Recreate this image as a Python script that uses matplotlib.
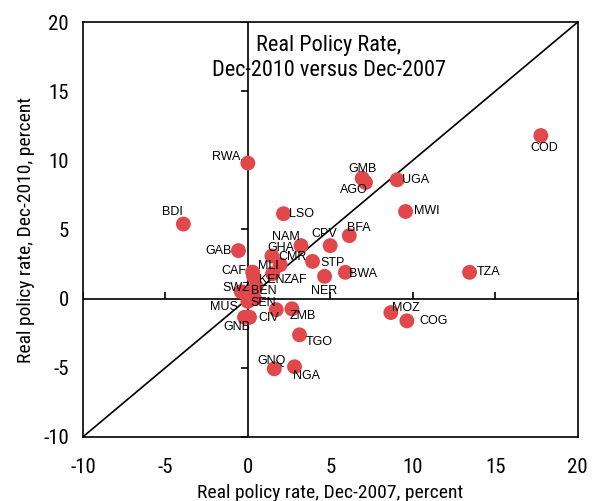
import matplotlib
matplotlib.use("Agg")
import matplotlib.pyplot as plt
from matplotlib import font_manager

# Real policy rates, Dec-2007 (x) against Dec-2010 (y), percent
countries = ["COD", "RWA", "GMB", "AGO", "UGA", "MWI", "BDI", "LSO", "BFA", "CPV",
             "NAM", "GAB", "GHA", "CMR", "STP", "BWA", "NER", "TZA", "CAF", "MLI",
             "KEN", "ZAF", "SWZ", "BEN", "MUS", "SEN", "GNB", "", "CIV", "ZMB",
             "TGO", "GNQ", "NGA", "MOZ", "COG"]
rate_2007 = [17.76, 0.0, 6.93, 7.13, 9.05, 9.56, -3.91, 2.16, 6.15, 4.99,
             3.22, -0.57, 1.46, 1.96, 3.92, 5.91, 4.65, 13.44, 0.29, 0.35,
             0.5, 1.5, -0.4, 0.1, 0.0, 0.4, -0.2, 0.1, 1.72, 2.67,
             3.13, 1.60, 2.83, 8.67, 9.64]
rate_2010 = [11.79, 9.8, 8.71, 8.40, 8.59, 6.30, 5.39, 6.14, 4.55, 3.83,
             3.83, 3.47, 3.08, 2.45, 2.69, 1.90, 1.61, 1.90, 1.91, 1.6,
             0.87, 1.8, 0.5, 0.4, -0.2, 0.0, -1.35, -1.35, -0.8, -0.74,
             -2.62, -5.08, -4.93, -1.01, -1.61]

ticks = [-10, -5, 0, 5, 10, 15, 20]

# where each label sits relative to its dot (pixels, alignment)
label_pos = {
    "COD": (3, -12, "center"), "RWA": (-7, 6, "right"), "GMB": (0, 9, "center"),
    "AGO": (-12, -8, "center"), "UGA": (5, 0, "left"), "MWI": (8, 0, "left"),
    "BDI": (-11, 12, "center"), "LSO": (6, 0, "left"), "BFA": (-2, 8, "left"),
    "CPV": (-6, 12, "center"), "NAM": (-1, 9, "right"), "GAB": (-7, 0, "right"),
    "GHA": (-5, 8, "left"), "CMR": (-2, 8, "left"), "STP": (8, -2, "left"),
    "BWA": (4, -2, "left"), "NER": (0, -15, "center"), "TZA": (7, 0, "left"),
    "CAF": (-6, 1, "right"), "MLI": (4, 10, "left"), "KEN": (3, 7, "left"),
    "ZAF": (11, -6, "left"), "SWZ": (9, 4, "right"), "BEN": (1, 2, "left"),
    "MUS": (-10, -6, "right"), "SEN": (-4, -4, "left"), "GNB": (-8, -10, "center"),
    "CIV": (-18, -8, "left"), "ZMB": (-2, -7.5, "left"), "TGO": (6, -7, "left"),
    "GNQ": (-17, 8, "left"), "NGA": (-2, -9, "left"), "MOZ": (1, 5, "left"),
    "COG": (12, 0, "left"),
}

# pick a condensed face if one is around, the reference uses Arial Narrow
installed = set(f.name for f in font_manager.fontManager.ttflist)
narrow = "Liberation Sans"
for cand in ["Liberation Sans Narrow", "Arial Narrow", "DejaVu Sans Condensed",
             "Roboto Condensed", "Open Sans Condensed", "Noto Sans Condensed"]:
    if cand in installed:
        narrow = cand
        break

plt.rcParams["axes.unicode_minus"] = False

fig = plt.figure(figsize=(5.92, 5.01), dpi=100)
ax = fig.add_axes([0.140, 0.128, 0.836, 0.828])

ax.set_xlim(-10, 20)
ax.set_ylim(-10, 20)

# zero lines and 45 degree line
ax.axhline(0, color="black", lw=1.2, zorder=1)
ax.axvline(0, color="black", lw=1.2, zorder=1)
ax.plot([-10, 20], [-10, 20], color="black", lw=1.2, zorder=1)

# small tick marks sitting on the zero lines
ax.plot(ticks, [0] * len(ticks), ls="none", marker=2, ms=5, mew=1.2, color="black", zorder=1)
ax.plot([0] * len(ticks), ticks, ls="none", marker=0, ms=5, mew=1.2, color="black", zorder=1)

ax.scatter(rate_2007, rate_2010, s=115, color="#E0484B", edgecolors="none", zorder=2)

for name, x, y in zip(countries, rate_2007, rate_2010):
    if name == "":
        continue
    dx, dy, ha = label_pos[name]
    ax.annotate(name, (x, y), xytext=(dx, dy), textcoords="offset pixels",
                ha=ha, va="center", fontsize=9, family="Liberation Sans", zorder=3)

ax.text(4.9, 17.4, "Real Policy Rate,\nDec-2010 versus Dec-2007", ha="center", va="center",
        fontsize=16, family=narrow, linespacing=1.25)

ax.set_xticks(ticks)
ax.set_yticks(ticks)
ax.tick_params(length=0, labelsize=15)
ax.tick_params(axis="y", pad=10)
ax.tick_params(axis="x", pad=15)
for lab in ax.get_xticklabels() + ax.get_yticklabels():
    lab.set_family(narrow)

for sp in ax.spines.values():
    sp.set_linewidth(1.2)

ax.set_xlabel("Real policy rate, Dec-2007, percent", fontsize=14, family=narrow, labelpad=5)
ax.set_ylabel("Real policy rate, Dec-2010, percent", fontsize=14, family=narrow, labelpad=6)

fig.savefig("out.png", dpi=100)
